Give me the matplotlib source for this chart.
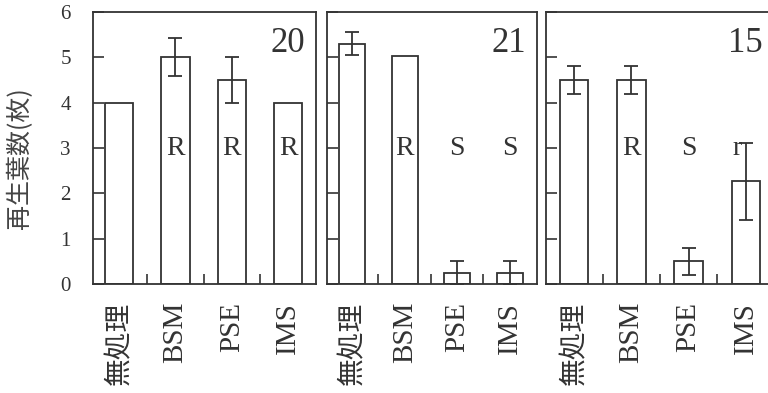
import matplotlib
matplotlib.use('Agg')
import numpy as np
import matplotlib.pyplot as plt

plt.rcParams['font.family'] = ['Liberation Serif', 'Noto Sans CJK JP']

categories = ['無処理', 'BSM', 'PSE', 'IMS']
panel_numbers = ['20', '21', '15']
means = [[4.0, 5.0, 4.5, 4.0],
         [5.3, 5.04, 0.25, 0.25],
         [4.5, 4.5, 0.5, 2.27]]
errors = [[0.0, 0.42, 0.5, 0.0],
          [0.25, 0.0, 0.25, 0.25],
          [0.3, 0.3, 0.3, 0.85]]
marks = [['', 'R', 'R', 'R'],
         ['', 'R', 'S', 'S'],
         ['', 'R', 'S', 'r']]

ink = '#333333'
figW, figH = 7.68, 3.93
fig = plt.figure(figsize=(figW, figH), dpi=100)

# panel boxes in pixels: left, right, and xlim for each
boxes = [(93, 316, (-0.46, 3.49)),
         (327, 537, (-0.48, 3.52)),
         (546, 774.5, (-0.49, 3.5))]
top_px, bot_px = 12, 284

for k, (l, r, xl) in enumerate(boxes):
    ax = fig.add_axes([l / 768, (393 - bot_px) / 393,
                       (r - l) / 768, (bot_px - top_px) / 393])
    x = np.arange(len(categories))
    ax.bar(x, means[k], width=0.5, color='white', edgecolor=ink,
           linewidth=1.3, zorder=2)
    yerr = np.array(errors[k])
    has = yerr > 0
    ax.errorbar(x[has], np.array(means[k])[has], yerr=yerr[has], fmt='none',
                ecolor=ink, elinewidth=1.3, capsize=5, capthick=1.3, zorder=3)
    for i, m in enumerate(marks[k]):
        if m:
            xi = i - 0.15 if m == 'r' else i
            ax.text(xi, 2.85, m, ha='center', va='baseline', fontsize=20,
                    color=ink, zorder=4)
    ax.text(0.95, 0.945, panel_numbers[k], transform=ax.transAxes,
            ha='right', va='top', fontsize=25, color=ink)
    ax.set_xlim(xl)
    ax.set_ylim(0, 6)
    ax.set_yticks(range(7))
    ax.set_xticks(x)
    ax.set_xticks([0.5, 1.5, 2.5], minor=True)
    ax.set_xticklabels(categories, rotation=90, fontsize=21, color=ink,
                       va='top', ha='center')
    ax.tick_params(axis='x', which='major', length=0, pad=13)
    ax.tick_params(axis='x', which='minor', direction='in', length=7,
                   width=1.2, color=ink)
    ax.tick_params(axis='y', direction='in', length=8, width=1.2, color=ink,
                   labelsize=15, labelcolor=ink, pad=16,
                   labelleft=(k == 0))
    for s in ax.spines.values():
        s.set_color(ink)
        s.set_linewidth(1.3)
    for lab in ax.get_xticklabels():
        if lab.get_text() == '無処理':
            lab.set_family(['Noto Sans CJK JP'])
            lab.set_fontsize(20)

fig.text(20 / 768, 1 - 158 / 393, '再生葉数(枚)', rotation=90, ha='center',
         va='center', fontsize=18, color='#444444', family=['Noto Sans CJK JP'])

plt.savefig('out.png', dpi=100)
